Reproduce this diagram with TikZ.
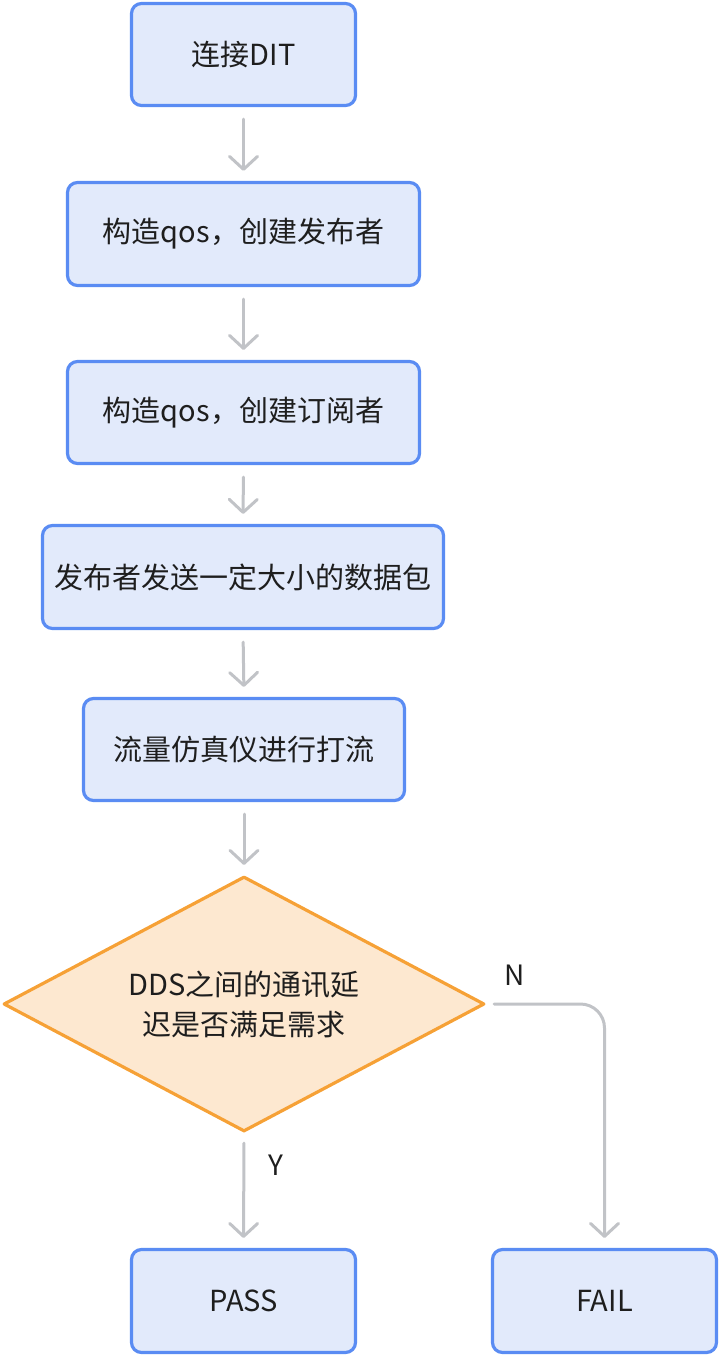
\documentclass[tikz,border=0pt]{standalone}
\usepackage{fontspec}
\setmainfont{Noto Sans CJK SC}
\usetikzlibrary{shapes.geometric,arrows.meta}
\definecolor{boxfill}{HTML}{E2EAFB}
\definecolor{boxline}{HTML}{5A8CF3}
\definecolor{dfill}{HTML}{FDE8D0}
\definecolor{dline}{HTML}{F6A136}
\definecolor{arr}{HTML}{C1C3C7}
\definecolor{txt}{HTML}{1E1E1E}
\tikzset{
  stepbox/.style={draw=boxline, fill=boxfill, line width=3.2pt, rounded corners=10pt,
    inner sep=0pt, text=txt, font=\fontsize{29}{40}\selectfont},
  decision/.style={shape=diamond, draw=dline, fill=dfill, line width=3.2pt, inner sep=0pt,
    aspect=1.876, minimum width=481pt, minimum height=255pt, text=txt, align=center,
    font=\fontsize{29}{40}\selectfont, line join=round},
  flow/.style={draw=arr, line width=3pt, line cap=round,
    -{Straight Barb[length=13pt,width=28pt,line width=3pt,round]}},
  lbl/.style={text=txt, font=\fontsize{28}{34}\selectfont, inner sep=0pt}
}
\begin{document}
\begin{tikzpicture}[x=1pt,y=-1pt]
\useasboundingbox (0,0) rectangle (720,1356);
\node[stepbox, minimum width=224pt, minimum height=102pt] (n1) at (243.5,54.5) {连接DIT};
\node[stepbox, minimum width=352pt, minimum height=103pt] (n2) at (243.5,234) {构造qos，创建发布者};
\node[stepbox, minimum width=352pt, minimum height=102pt] (n3) at (243.5,412.5) {构造qos，创建订阅者};
\node[stepbox, minimum width=401pt, minimum height=103pt] (n4) at (243,577) {发布者发送一定大小的数据包};
\node[stepbox, minimum width=321pt, minimum height=102pt] (n5) at (244,749.5) {流量仿真仪进行打流};
\node[decision] (d) at (244,1004) {DDS之间的通讯延\\迟是否满足需求};
\node[stepbox, minimum width=224pt, minimum height=103pt] (pass) at (243.5,1301) {PASS};
\node[stepbox, minimum width=224pt, minimum height=103pt] (fail) at (604.5,1301) {FAIL};
\draw[flow, shorten <=12pt, shorten >=10pt] (n1.south) -- (n2.north);
\draw[flow, shorten <=12pt, shorten >=10pt] (n2.south) -- (n3.north);
\draw[flow, shorten <=12pt, shorten >=10pt] (n3.south) -- (n4.north);
\draw[flow, shorten <=12pt, shorten >=10pt] (n4.south) -- (n5.north);
\draw[flow, shorten <=12pt, shorten >=10pt] (n5.south) -- (d.north);
\draw[flow, shorten <=10pt, shorten >=10pt] (d.south) -- (pass.north);
\draw[flow, rounded corners=24pt, shorten <=8pt, shorten >=10pt] (d.east) -| (fail.north);
\node[lbl] (ln) at (515,975) {N};
\node[lbl] (ly) at (276,1165) {Y};
\end{tikzpicture}
\end{document}
